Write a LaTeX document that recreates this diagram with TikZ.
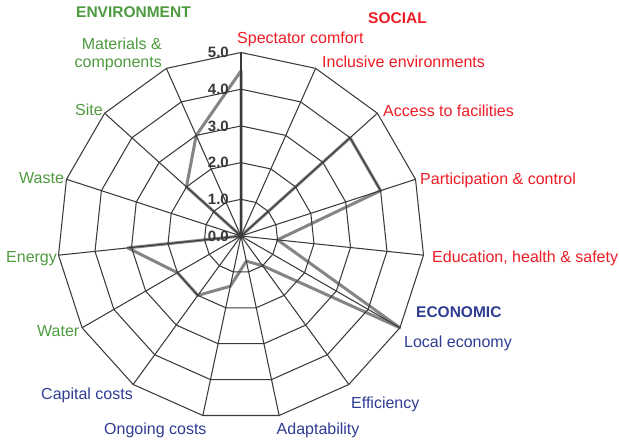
\documentclass[tikz,border=0pt]{standalone}
\usepackage{fontspec}
\setmainfont{Liberation Sans}
\definecolor{socred}{HTML}{ED1C24}
\definecolor{envgreen}{HTML}{4E9A3E}
\definecolor{ecoblue}{HTML}{2E3C92}
\definecolor{gridgray}{HTML}{3A3A3A}
\definecolor{datagray}{HTML}{858585}
\begin{document}
\begin{tikzpicture}[x=1pt,y=-1pt,
  gridline/.style={draw=gridgray, line width=1.05pt, line join=round},
  dataline/.style={draw=datagray, line width=3pt, line join=round},
  lbl/.style={inner sep=0pt, font=\fontsize{16}{18}\selectfont},
  soc/.style={lbl, text=socred},
  env/.style={lbl, text=envgreen},
  eco/.style={lbl, text=ecoblue},
  head/.style={inner sep=0pt, anchor=base west, font=\fontsize{15.5}{18}\selectfont\bfseries},
  val/.style={inner sep=0pt, anchor=east, text=gridgray, font=\fontsize{15}{17}\selectfont\bfseries}]
\useasboundingbox (0,0) rectangle (619,440);
\coordinate (o) at (241,236);
\foreach \i in {0,...,14}{
  \foreach \r in {1,...,5}{
    \coordinate (g\i-\r) at ({241+36.7*\r*sin(24*\i)},{236-36.7*\r*cos(24*\i)});
  }
}
\foreach \v [count=\k from 0] in {4.5,0,4.0,4.0,1.0,5.0,1.0,0.7,1.4,2.0,2.0,3.1,0,2.0,3.0}{
  \coordinate (d\k) at ({241+36.7*\v*sin(24*\k)},{236-36.7*\v*cos(24*\k)});
}
% data polygon
\draw[dataline] (d0) \foreach \i in {1,...,14}{ -- (d\i)} -- cycle;
% grid rings and spokes
\foreach \r in {1,...,5}{
  \draw[gridline] (g0-\r) \foreach \i in {1,...,14}{ -- (g\i-\r)} -- cycle;
}
\foreach \i in {0,...,14}{
  \draw[gridline] (o) -- (g\i-5);
}
% scale values
\foreach \r in {0,...,5}{
  \node[val] (v\r) at (229,{236-36.7*\r}) {\r.0};
}
% headings
\node[head, text=envgreen] (henv) at (76,17.7) {ENVIRONMENT};
\node[head, text=socred] (hsoc) at (368,23.3) {SOCIAL};
\node[head, text=ecoblue] (heco) at (416,317.7) {ECONOMIC};
% social labels
\node[soc, anchor=base west] (l0) at (237,43) {Spectator comfort};
\node[soc, anchor=base west] (l1) at (322,67.3) {Inclusive environments};
\node[soc, anchor=base west] (l2) at (383,116) {Access to facilities};
\node[soc, anchor=base west] (l3) at (420,184.3) {Participation \& control};
\node[soc, anchor=base west] (l4) at (432,262.7) {Education, health \& safety};
% economic labels
\node[eco, anchor=base west] (l5) at (404,347.7) {Local economy};
\node[eco, anchor=base west] (l6) at (351,408.3) {Efficiency};
\node[eco, anchor=base west] (l7) at (276.5,434) {Adaptability};
\node[eco, anchor=base west] (l8) at (104,434) {Ongoing costs};
\node[eco, anchor=base west] (l9) at (41,399.3) {Capital costs};
% environment labels
\node[env, anchor=base west] (l10) at (37,336.7) {Water};
\node[env, anchor=base west] (l11) at (6,262.7) {Energy};
\node[env, anchor=base west] (l12) at (19,183.3) {Waste};
\node[env, anchor=base west] (l13) at (75,115) {Site};
\node[env, anchor=base east] (l14a) at (162,49) {Materials \&};
\node[env, anchor=base east] (l14b) at (162,67.5) {components};
\end{tikzpicture}
\end{document}
